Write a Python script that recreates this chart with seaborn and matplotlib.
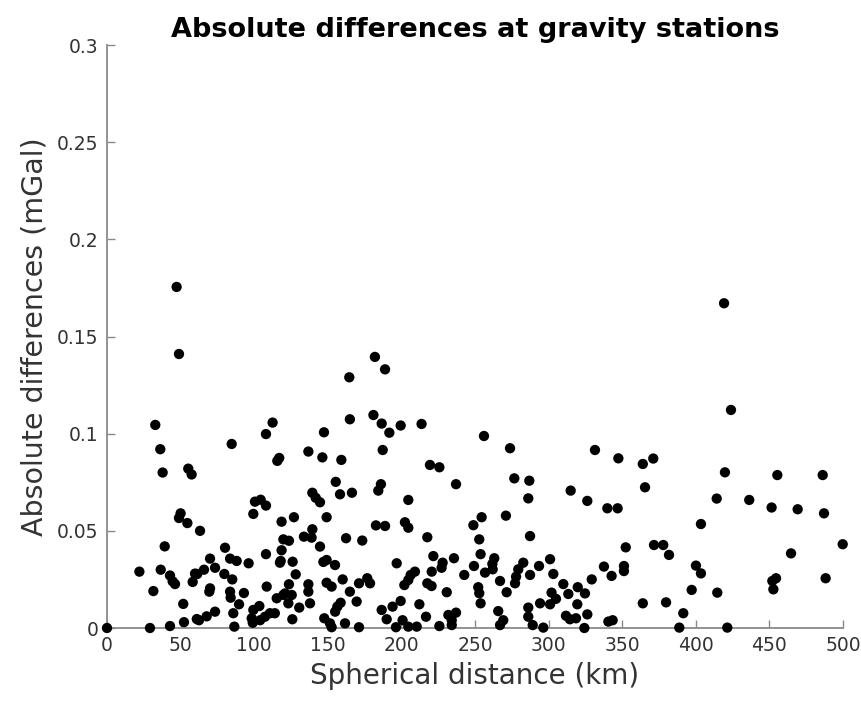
import matplotlib
matplotlib.use("Agg")
import matplotlib.pyplot as plt
import seaborn as sns
import pandas as pd

# Spherical distance (km) and absolute differences (mGal)
distance_km = [
    0, 29.2, 22, 31.5, 32.8, 36.2, 36.5, 37.8, 39.2, 42.8, 42.8, 44.6, 46.2, 47.3, 48.9, 48.9,
    50, 51.8, 52.3, 54.6, 55.2, 57.5, 58.2, 59.8, 61,
    112.5, 108, 84.7, 117, 115.7, 100.5, 104.4, 108, 99.4, 118.6, 63.2, 80.2, 70, 83.6, 88.1,
    96.2, 108, 118.6, 118, 117.5, 73.4, 65.9, 79.7, 61.3, 85.1, 70, 69.5, 83.6, 84, 93, 108.5,
    115.3, 119.8, 89.7, 103.5, 99.4, 85.8, 73.4, 67.7, 62.5, 98.3, 104, 110.7, 114, 107.3, 86.5, 99,
    182, 164.6, 181, 165, 147.4, 136.8, 146.3, 159.2, 155.4, 158.3, 166.4, 139.5, 141.8, 144.7,
    127, 149.2, 139.5, 133.8, 139, 119.8, 123.6, 144.7, 162.4, 173.4, 126.1, 147, 149.2, 154.9,
    128.2, 160.1, 149.2, 152.6, 123.6, 136.8, 171.2, 176.8, 178.7, 136.8, 165, 121, 125.5, 123.2,
    137.9, 158.7, 169.6, 130.6, 156.5, 155, 125.9, 147.6, 151.5, 161.7, 171.2, 152.6,
    188.9, 186.6, 191.8, 199.5, 213.7, 187.3, 219.4, 225.8, 237.1, 186.1, 184.3, 204.7, 182.7,
    188.9, 202.4, 204.7, 217.6, 221.7, 228, 235.7, 196.8, 227.3, 220.6, 242.7, 209.2, 206.3,
    204.7, 202, 217.6, 220.5, 230.8, 199.5, 194, 212.2, 186.6, 190, 200.8, 216.7, 231.9, 237.1,
    234.2, 196.3, 204.7, 210.4, 225.8, 234.2,
    256.1, 273.8, 276.7, 286.9, 286.2, 254.5, 248.9, 271, 287.4, 252.9, 253.8, 263.1, 249.3,
    261.8, 282.8, 293.5, 301, 256.8, 262, 279.4, 277.9, 287.4, 303.2, 267, 277.2, 252.2, 252.9,
    271.5, 253.8, 302, 294.2, 301, 286.2, 265.8, 286.2, 269.2, 267, 289.2, 296.4,
    331.5, 347.4, 364, 315, 326.3, 339.9, 346.9, 365.5, 352.4, 337.6, 342.8, 351.2, 351.2, 329.3,
    310, 319.8, 324.7, 313.4, 305, 319.5, 326.3, 311.8, 314.5, 318.6, 324.3, 340.6, 343.5, 364,
    419.2, 423.9, 371.1, 419.8, 414.2, 403.5, 371.6, 377.9, 381.8, 400.1, 403.5, 397.2, 414.6,
    379.8, 391.5, 388.8, 421.4,
    455.4, 486.2, 436.3, 451.5, 469.2, 487.1, 499.8, 464.7, 454.5, 452, 452.7, 488.2,
]
abs_diff_mgal = [
    0, 0, 0.029, 0.019, 0.1045, 0.092, 0.030, 0.080, 0.042, 0.027, 0.001, 0.024, 0.0226, 0.1755,
    0.141, 0.0566, 0.059, 0.0124, 0.003, 0.054, 0.082, 0.079, 0.0237, 0.028, 0.0046,
    0.1057, 0.0998, 0.0947, 0.0875, 0.086, 0.065, 0.066, 0.063, 0.0587, 0.0547, 0.050, 0.0413,
    0.0357, 0.0357, 0.0345, 0.0333, 0.038, 0.040, 0.0345, 0.0336, 0.031, 0.030, 0.0278, 0.0278,
    0.025, 0.0204, 0.0187, 0.0187, 0.0156, 0.018, 0.0213, 0.0153, 0.017, 0.0122, 0.0113, 0.0093,
    0.0076, 0.0084, 0.006, 0.004, 0.005, 0.004, 0.0076, 0.0076, 0.0058, 0.0007, 0.0027,
    0.1395, 0.129, 0.1096, 0.1074, 0.1007, 0.0908, 0.0878, 0.0865, 0.0752, 0.0688, 0.0696, 0.0696,
    0.067, 0.0647, 0.057, 0.057, 0.0508, 0.047, 0.0465, 0.0456, 0.0449, 0.0419, 0.0462, 0.045,
    0.0341, 0.034, 0.035, 0.0324, 0.0276, 0.025, 0.0233, 0.0213, 0.0225, 0.0225, 0.023, 0.0256,
    0.023, 0.0187, 0.0187, 0.0178, 0.017, 0.0127, 0.0127, 0.013, 0.0136, 0.0105, 0.011, 0.0084,
    0.0045, 0.005, 0.0024, 0.0024, 0.0004, 0.0004,
    0.1331, 0.1052, 0.1005, 0.1042, 0.105, 0.0916, 0.0839, 0.0827, 0.074, 0.074, 0.0707, 0.0659,
    0.0528, 0.0525, 0.0544, 0.0516, 0.0467, 0.037, 0.0336, 0.0359, 0.0333, 0.031, 0.029, 0.0273,
    0.029, 0.0273, 0.0247, 0.0221, 0.023, 0.0216, 0.0184, 0.0139, 0.011, 0.0122, 0.0093, 0.0045,
    0.004, 0.0058, 0.0067, 0.0079, 0.004, 0.0004, 0.0007, 0.0007, 0.001, 0.0015,
    0.0988, 0.0925, 0.077, 0.0758, 0.0667, 0.057, 0.0529, 0.0578, 0.0473, 0.0456, 0.038, 0.0359,
    0.0319, 0.033, 0.0336, 0.0319, 0.0354, 0.0285, 0.0302, 0.0302, 0.0264, 0.0273, 0.0278, 0.0242,
    0.023, 0.021, 0.0179, 0.0184, 0.0127, 0.0182, 0.0127, 0.0122, 0.0105, 0.0087, 0.0058, 0.004,
    0.0015, 0.0015, 0.0002,
    0.0916, 0.0873, 0.0844, 0.0707, 0.0654, 0.0616, 0.0616, 0.0724, 0.0415, 0.0316, 0.0268, 0.0319,
    0.0293, 0.025, 0.0226, 0.021, 0.0178, 0.0175, 0.015, 0.0122, 0.007, 0.0063, 0.0045, 0.005, 0,
    0.0033, 0.004, 0.0127,
    0.1671, 0.1122, 0.0872, 0.0801, 0.0666, 0.0535, 0.0427, 0.0427, 0.0376, 0.0321, 0.0281, 0.0196,
    0.0182, 0.0132, 0.0076, 0.0002, 0.0002,
    0.0787, 0.0787, 0.0659, 0.062, 0.0611, 0.059, 0.0431, 0.0384, 0.0256, 0.0242, 0.0199, 0.0256,
]

x_ticks = [0, 50, 100, 150, 200, 250, 300, 350, 400, 450, 500]
y_ticks = [0, 0.05, 0.1, 0.15, 0.2, 0.25, 0.3]
y_tick_labels = ["0", "0.05", "0.1", "0.15", "0.2", "0.25", "0.3"]

df = pd.DataFrame({"distance": distance_km, "diff": abs_diff_mgal})

sns.set_style("ticks")
plt.rcParams["font.family"] = ["DejaVu Sans"]

fig = plt.figure(figsize=(8.62, 7.03), dpi=100)
ax = fig.add_axes([107 / 862, 1 - 628 / 703, (843 - 107) / 862, (628 - 45) / 703])

sns.scatterplot(data=df, x="distance", y="diff", ax=ax, color="black", s=55,
                edgecolor="none", linewidth=0, clip_on=False, zorder=3)

ax.set_xlim(0, 500)
ax.set_ylim(0, 0.3)
ax.set_xticks(x_ticks)
ax.set_xticklabels([str(t) for t in x_ticks])
ax.set_yticks(y_ticks)
ax.set_yticklabels(y_tick_labels)

for side in ["top", "right"]:
    ax.spines[side].set_visible(False)
for side in ["left", "bottom"]:
    ax.spines[side].set_color("#8a8a8a")
    ax.spines[side].set_linewidth(1.3)

ax.tick_params(axis="both", direction="in", length=6, width=1.0, color="#8a8a8a",
               labelsize=13.5, labelcolor="#333333", pad=6)

ax.set_xlabel("Spherical distance (km)", fontsize=20, color="#333333", labelpad=5)
ax.set_ylabel("Absolute differences (mGal)", fontsize=20.5, color="#333333", labelpad=6)
ax.set_title("Absolute differences at gravity stations", fontsize=19.5, fontweight="bold",
             color="black", pad=6)

fig.savefig("out.png", dpi=100)
